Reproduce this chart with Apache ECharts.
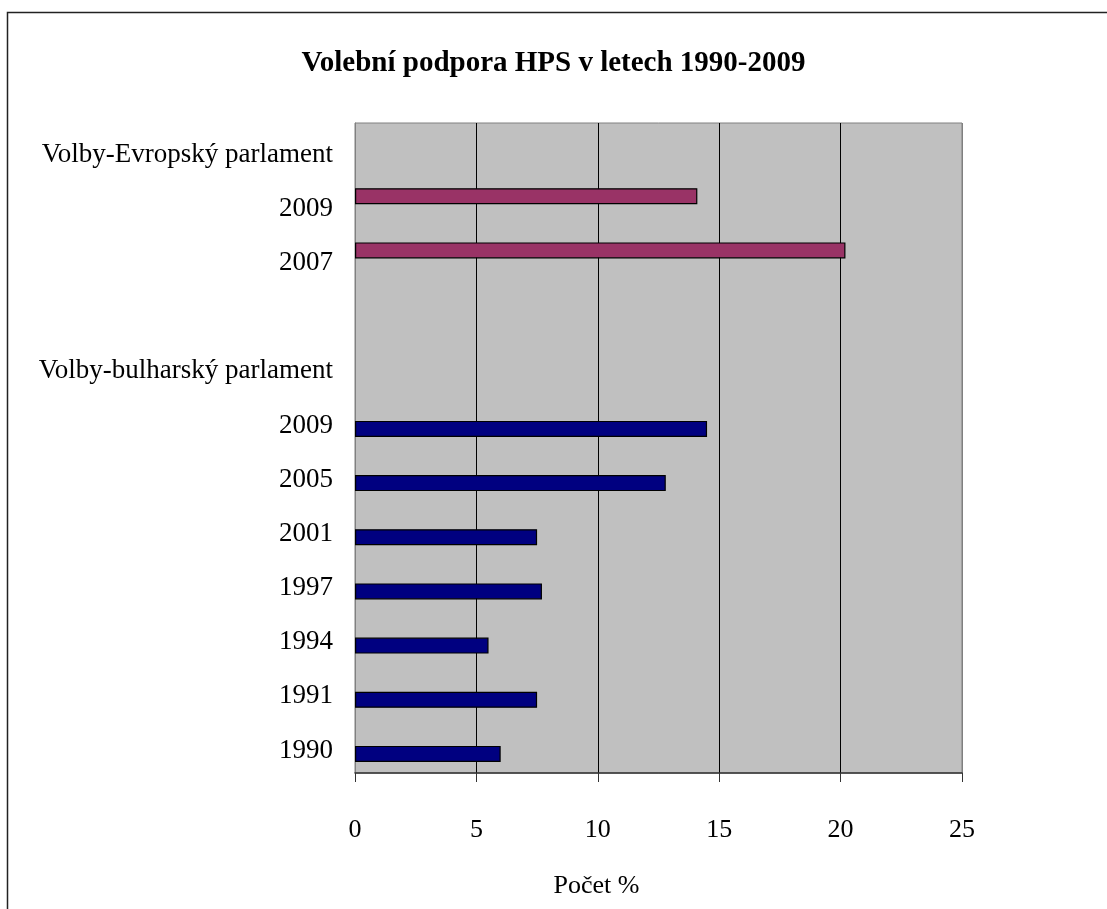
<!DOCTYPE html>
<html>
<head>
<meta charset="utf-8">
<script src="https://cdn.jsdelivr.net/npm/echarts@6/dist/echarts.min.js"></script>
<style>
html,body{margin:0;padding:0;background:#fff;}
#chart{width:1107px;height:909px;}
</style>
</head>
<body>
<div id="chart"></div>
<script>
// Categories, top to bottom
const categories = [
  "Volby-Evropský parlament", "2009", "2007", "",
  "Volby-bulharský parlament", "2009", "2005", "2001", "1997", "1994", "1991", "1990"
];
// European parliament elections (%)
const euValues = [null, 14.1, 20.2, null, null, null, null, null, null, null, null, null];
// Bulgarian parliament elections (%)
const bgValues = [null, null, null, null, null, 14.5, 12.8, 7.5, 7.7, 5.5, 7.5, 6.0];
const xTicks = [0, 5, 10, 15, 20, 25];

const FONT = "'Liberation Serif','Times New Roman',serif";
const chart = echarts.init(document.getElementById('chart'));
chart.setOption({
  animation: false,
  backgroundColor: '#ffffff',
  title: {
    text: 'Volební podpora HPS v letech 1990-2009',
    left: 'center',
    top: 44,
    textStyle: { fontFamily: FONT, fontSize: 29, fontWeight: 'bold', color: '#000' }
  },
  graphic: [{
    type: 'rect',
    shape: { x: 7.5, y: 12.5, width: 1200, height: 1000 },
    style: { fill: 'none', stroke: '#222', lineWidth: 1.5 },
    silent: true
  }],
  grid: {
    left: 355, right: 145, top: 123, bottom: 136,
    show: true, backgroundColor: '#c0c0c0', borderColor: '#808080', borderWidth: 1
  },
  xAxis: {
    type: 'value',
    min: xTicks[0], max: xTicks[xTicks.length - 1], interval: 5,
    name: 'Počet %',
    nameLocation: 'middle',
    nameGap: 100,
    nameTextStyle: { fontFamily: FONT, fontSize: 26, color: '#000', padding: [0, 124, 0, 0] },
    axisLine: { show: true, lineStyle: { color: '#333', width: 1.5 } },
    axisTick: { show: true, length: 9, lineStyle: { color: '#333' } },
    axisLabel: { fontFamily: FONT, fontSize: 26, color: '#000', margin: 44 },
    splitLine: { show: true, lineStyle: { color: ['#808080', '#000', '#000', '#000', '#000', '#808080'], width: 1 } }
  },
  yAxis: {
    type: 'category',
    inverse: true,
    data: categories,
    axisLine: { show: true, lineStyle: { color: '#808080' } },
    axisTick: { show: false },
    axisLabel: {
      interval: 0,
      margin: 22,
      formatter: function (v) { return v ? '{a|' + v + '}' : ''; },
      rich: {
        a: { fontFamily: FONT, fontSize: 27, color: '#000', padding: [9, 0, 0, 0] }
      }
    },
    splitLine: { show: false }
  },
  series: [
    {
      name: 'Volby-Evropský parlament',
      type: 'bar',
      data: euValues,
      barWidth: 16,
      barGap: '0%',
      itemStyle: { color: '#993366', borderColor: '#000', borderWidth: 1.2 }
    },
    {
      name: 'Volby-bulharský parlament',
      type: 'bar',
      data: bgValues,
      barWidth: 16,
      barGap: '0%',
      itemStyle: { color: '#000080', borderColor: '#000', borderWidth: 1.2 }
    }
  ]
});
</script>
</body>
</html>
